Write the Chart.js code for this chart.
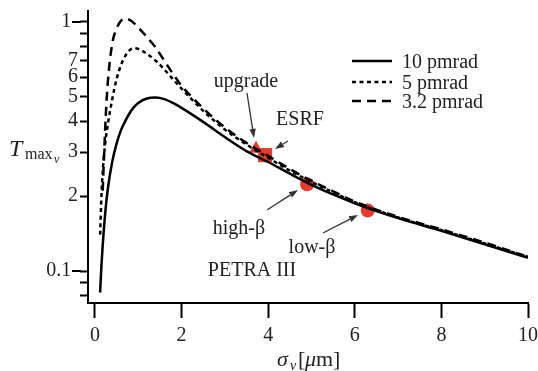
<!DOCTYPE html>
<html><head><meta charset="utf-8">
<script src="https://cdn.jsdelivr.net/npm/chart.js@4/dist/chart.umd.min.js"></script>
<style>html,body{margin:0;padding:0;background:#fff}#wrap{width:538px;height:371px;position:relative}</style>
</head><body><div id="wrap"><canvas id="c" width="538" height="371"></canvas></div>
<script>
// ---- data ----
const sigma = [0.12,0.15,0.18,0.2,0.25,0.3,0.4,0.5,0.6,0.7,0.8,0.9,1.0,1.2,1.4,1.6,1.8,2.0,2.5,3.0,3.5,4.0,4.5,5.0,5.5,6.0,7.0,8.0,9.0,10.0];
const t10pm = [0.082,0.105,0.127,0.142,0.18,0.215,0.275,0.325,0.367,0.40,0.43,0.455,0.473,0.493,0.497,0.49,0.473,0.452,0.397,0.345,0.303,0.274,0.246,0.222,0.203,0.187,0.163,0.145,0.128,0.113];
const t5pm = [0.14,0.20,0.25,0.28,0.34,0.39,0.49,0.59,0.67,0.73,0.77,0.785,0.78,0.745,0.70,0.645,0.59,0.54,0.44,0.37,0.322,0.285,0.253,0.228,0.207,0.189,0.164,0.146,0.129,0.114];
const t32pm = [null,null,0.21,0.26,0.42,0.58,0.82,0.94,1.01,1.03,1.02,0.99,0.95,0.87,0.79,0.70,0.62,0.555,0.45,0.377,0.327,0.29,0.257,0.23,0.209,0.19,0.165,0.147,0.13,0.114];
const seriesNames = ['10 pmrad','5 pmrad','3.2 pmrad'];
const markerSigma = [3.72,3.93,4.9,6.3];
const markerT = [0.31,0.292,0.223,0.175];
const markerNames = ['upgrade','ESRF','high-β','low-β'];
const xTicks = [0,2,4,6,8,10];
const yTickValues = [0.08,0.09,0.1,0.2,0.3,0.4,0.5,0.6,0.7,0.8,0.9,1];
const yTickLabels = ['','','0.1\u2006\u2006','2','3','4','5','6','7','','','1\u2006\u2006'];
const yMajor = [0.1,1];

const SERIF = '"Liberation Serif","DejaVu Serif",serif';
const TXT = '#222';
const RED = '#e53a2f';

const toXY = arr => sigma.map((s,i)=>({x:s,y:arr[i]}));

const overlay = {
  id:'overlay',
  afterDraw(chart){
    const ctx = chart.ctx, ys = chart.scales.y;
    ctx.save();
    // extend major y ticks
    ctx.strokeStyle='#000'; ctx.lineWidth=2;
    const left = chart.chartArea.left;
    yMajor.forEach(v=>{
      const p = Math.round(ys.getPixelForValue(v));
      ctx.beginPath(); ctx.moveTo(left-16,p); ctx.lineTo(left-7,p); ctx.stroke();
    });
    // legend
    const dashes = [[],[4,3.5],[9,6]];
    const rows = [61,82,101];
    chart.data.datasets.slice(0,3).forEach((ds,i)=>{
      ctx.setLineDash(dashes[i]); ctx.lineWidth=2.5; ctx.strokeStyle='#000';
      ctx.beginPath(); ctx.moveTo(352,rows[i]); ctx.lineTo(392,rows[i]); ctx.stroke();
      ctx.setLineDash([]);
      ctx.fillStyle=TXT; ctx.font='20px '+SERIF; ctx.textAlign='left'; ctx.textBaseline='alphabetic';
      ctx.fillText(ds.label,402,rows[i]+7);
    });
    // annotations
    ctx.fillStyle=TXT; ctx.font='20px '+SERIF; ctx.textAlign='center';
    ctx.fillText(markerNames[0],246,87);
    ctx.fillText(markerNames[1],300,125);
    ctx.fillText(markerNames[2],239,234);
    ctx.fillText(markerNames[3],312,253);
    ctx.fillText('PETRA III',252,276);
    const arrow=(x1,y1,x2,y2)=>{
      ctx.strokeStyle='#333'; ctx.fillStyle='#333'; ctx.lineWidth=1.3;
      const a=Math.atan2(y2-y1,x2-x1), L=9, W=3.2;
      const bx=x2-L*Math.cos(a), by=y2-L*Math.sin(a);
      ctx.beginPath(); ctx.moveTo(x1,y1); ctx.lineTo(bx,by); ctx.stroke();
      ctx.beginPath(); ctx.moveTo(x2,y2);
      ctx.lineTo(bx+W*Math.sin(a),by-W*Math.cos(a));
      ctx.lineTo(bx-W*Math.sin(a),by+W*Math.cos(a));
      ctx.closePath(); ctx.fill();
    };
    arrow(247,93,254,138);
    arrow(288,141,275,149);
    arrow(267,210,298,190);
    arrow(323,233,358,215);
    // y title
    ctx.fillStyle=TXT; ctx.textAlign='left';
    ctx.font='italic 24px '+SERIF; ctx.fillText('T',9,156);
    ctx.font='16px '+SERIF; ctx.fillText('max',25,159);
    ctx.font='italic 12px '+SERIF; ctx.fillText('v',54,163);
    // x title
    ctx.font='italic 22px '+SERIF; ctx.fillText('σ',277,366);
    ctx.font='italic 14px '+SERIF; ctx.fillText('v',290,370);
    ctx.font='22px '+SERIF; ctx.fillText('[',298,366);
    ctx.font='italic 22px '+SERIF; ctx.fillText('μ',305,366);
    ctx.font='22px '+SERIF; ctx.fillText('m',316,366);
    ctx.fillText(']',333,366);
    ctx.restore();
  }
};

new Chart(document.getElementById('c'),{
  type:'line',
  data:{datasets:[
    {label:seriesNames[0],data:toXY(t10pm),borderColor:'#000',borderWidth:2.5,pointRadius:0,cubicInterpolationMode:'monotone',fill:false},
    {label:seriesNames[1],data:toXY(t5pm),borderColor:'#000',borderWidth:2.5,borderDash:[4,3.5],pointRadius:0,cubicInterpolationMode:'monotone',fill:false},
    {label:seriesNames[2],data:toXY(t32pm),borderColor:'#000',borderWidth:2.5,borderDash:[9,6],pointRadius:0,cubicInterpolationMode:'monotone',fill:false},
    {label:'markers',data:markerSigma.map((s,i)=>({x:s,y:markerT[i]})),showLine:false,
     pointStyle:['triangle','rect','circle','circle'],pointRadius:[8,10,7,7],
     backgroundColor:RED,borderColor:RED,borderWidth:0}
  ]},
  options:{
    responsive:false,animation:false,
    layout:{padding:{top:11,right:10,left:0,bottom:0}},
    plugins:{legend:{display:false},tooltip:{enabled:false}},
    scales:{
      x:{type:'linear',min:-0.16,max:10,
        afterBuildTicks:s=>{s.ticks=xTicks.map(v=>({value:v}));},
        afterFit:s=>{s.height=68;s.paddingLeft=0;s.paddingRight=0;},
        ticks:{font:{family:SERIF,size:20},color:TXT,padding:6,maxRotation:0,autoSkip:false},
        grid:{drawOnChartArea:false,tickLength:15,tickWidth:2,tickColor:'#000'},
        border:{color:'#000',width:2}},
      y:{type:'logarithmic',min:0.0744,max:1.107,
        afterBuildTicks:s=>{s.ticks=yTickValues.map(v=>({value:v,major:false}));},
        afterFit:s=>{s.width=88;s.paddingTop=0;s.paddingBottom=0;},
        ticks:{font:{family:SERIF,size:20},color:TXT,padding:2,autoSkip:false,
          callback:(v,i)=>yTickLabels[i]},
        grid:{drawOnChartArea:false,tickLength:8,tickWidth:2,tickColor:'#000'},
        border:{color:'#000',width:2}}
    }
  },
  plugins:[overlay]
});
</script></body></html>
